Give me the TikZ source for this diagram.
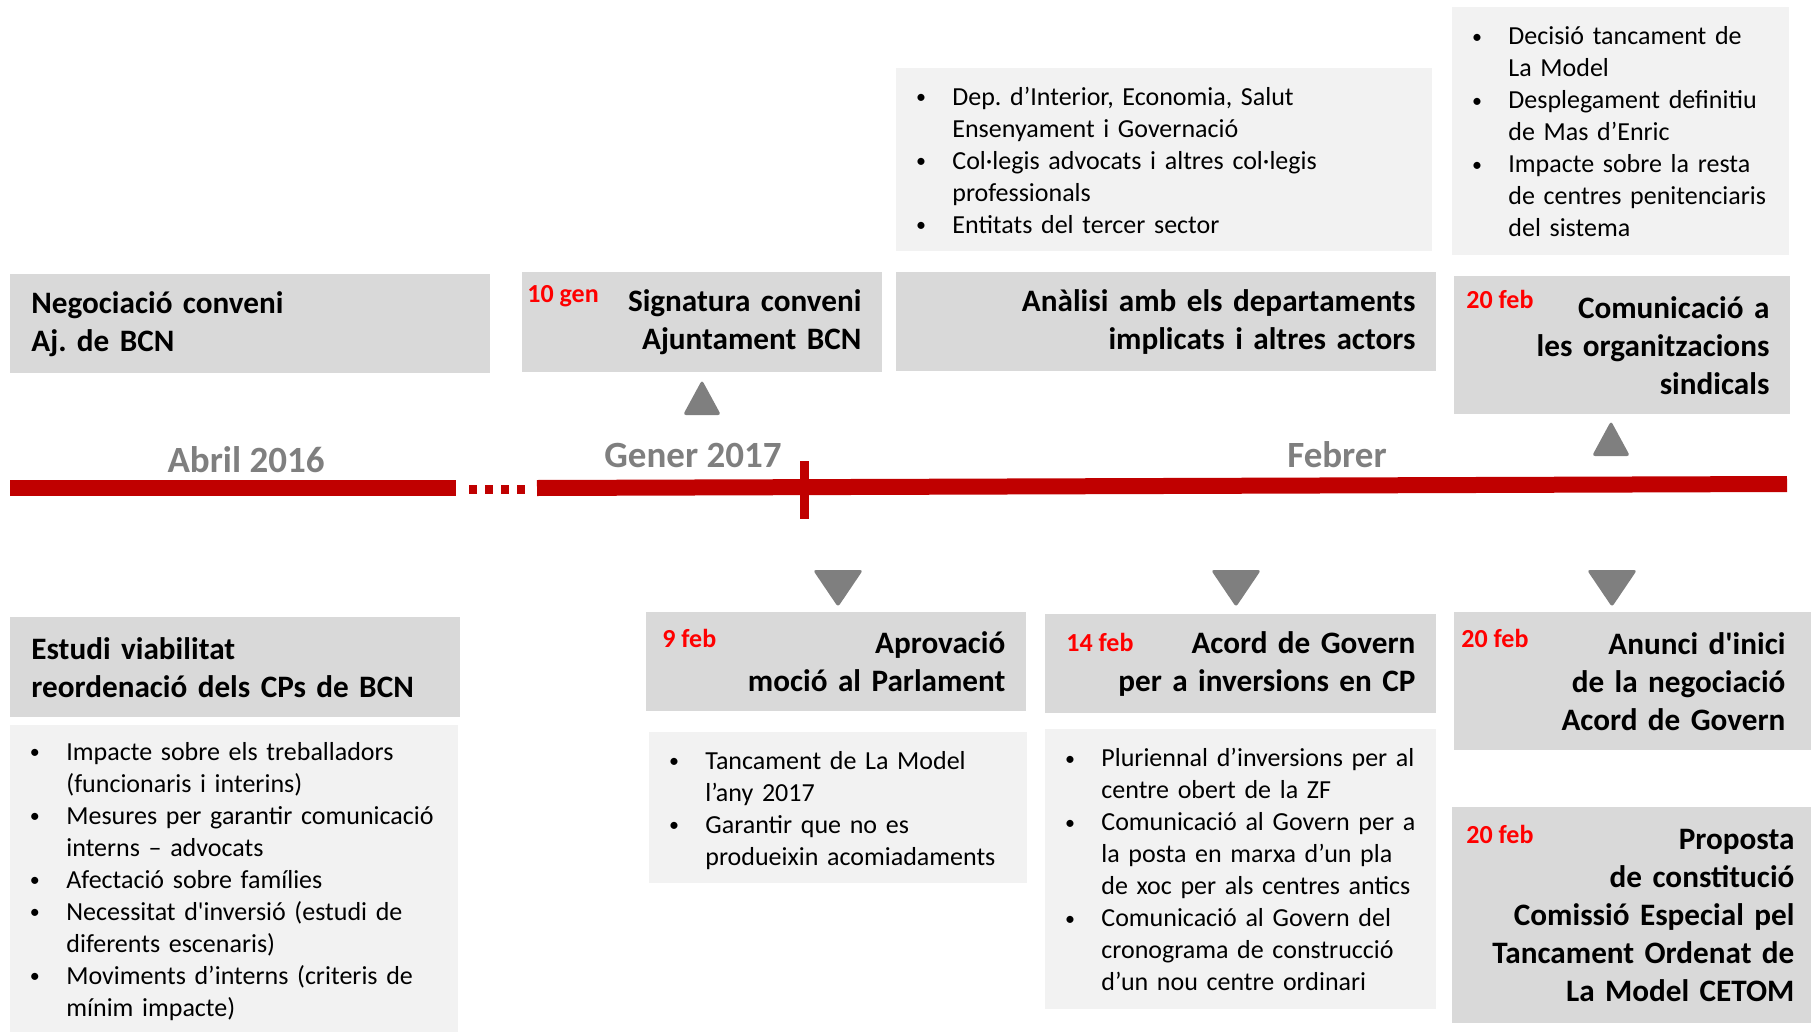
\documentclass[tikz,border=0pt]{standalone}
\usepackage{fontspec}
\setmainfont{Carlito}
\frenchspacing
\definecolor{boxdark}{HTML}{D9D9D9}
\definecolor{boxlight}{HTML}{F2F2F2}
\definecolor{linered}{HTML}{C00000}
\definecolor{markgray}{HTML}{7F7F7F}
\definecolor{datered}{HTML}{FF0000}
\newcommand{\bl}{\hspace{0.8pt}\raisebox{0.9pt}{\fontsize{10}{10}\selectfont\textbullet}}

\begin{document}
\begin{tikzpicture}[x=0.5pt,y=-0.5pt,
  head/.style={fill=boxdark, anchor=north west, inner xsep=10.5pt, inner ysep=0pt,
    font=\fontsize{15.6}{19}\selectfont\bfseries},
  note/.style={fill=boxlight, anchor=north west, inner xsep=9pt, inner ysep=0pt,
    align=left, font=\fontsize{13}{16}\selectfont},
  when/.style={anchor=west, inner sep=0pt, text=datered, font=\fontsize{13}{15}\selectfont\bfseries},
  month/.style={inner sep=0pt, text=markgray, font=\fontsize{18.5}{22}\selectfont\bfseries},
  bar/.style={linered, line width=8pt},
  tri/.style={fill=markgray, rounded corners=1.5pt}]
\useasboundingbox (0,0) rectangle (1811,1033);

% timeline
\draw[bar] (10,488) -- (456,488);
\draw[linered, line width=4.5pt, dash pattern=on 4pt off 4pt] (469,489) -- (525,489);
\draw[bar] (537,488) -- (1787,484);
\draw[linered, line width=4.5pt] (804.5,461) -- (804.5,519);
\node[month] (abril) at (246,460) {Abril 2016};
\node[month] (gener) at (693,455) {Gener 2017};
\node[month] (febrer) at (1337,455) {Febrer};

% upper row
\node[head, align=left, text width=219pt, minimum height=49.5pt] (negoc) at (10,274)
  {Negociació conveni\\Aj. de BCN};
\node[head, align=right, text width=159pt, minimum height=50pt] (signa) at (522,272)
  {Signatura conveni\\Ajuntament BCN};
\node[head, align=right, text width=249pt, minimum height=49.5pt] (analisi) at (896,272)
  {Anàlisi amb els departaments\\implicats i altres actors};
\node[head, align=right, text width=147pt, minimum height=69pt] (sindic) at (1454,276)
  {Comunicació a\\les organitzacions\\sindicals};
\node[note, text width=250pt, minimum height=91.5pt] (actors) at (896,68)
  {\begin{tabular}{@{}p{19pt}@{}l@{}}\noalign{\vskip3pt}
   \bl & Dep. d’Interior, Economia, Salut\\
       & Ensenyament i Governació\\
   \bl & Col·legis advocats i altres col·legis\\
       & professionals\\
   \bl & Entitats del tercer sector
   \end{tabular}};
\node[note, text width=150.5pt, minimum height=124pt] (decisio) at (1452,7)
  {\begin{tabular}{@{}p{19pt}@{}l@{}}\noalign{\vskip3pt}
   \bl & Decisió tancament de\\
       & La Model\\
   \bl & Desplegament definitiu\\
       & de Mas d’Enric\\
   \bl & Impacte sobre la resta\\
       & de centres penitenciaris\\
       & del sistema
   \end{tabular}};

% lower row
\node[head, align=left, text width=204pt, minimum height=50pt] (estudi) at (10,617)
  {Estudi viabilitat\\reordenació dels CPs de BCN};
\node[head, align=right, text width=169pt, minimum height=49.5pt] (mocio) at (646,612)
  {Aprovació\\moció al Parlament};
\node[head, align=right, text width=174.5pt, minimum height=49.5pt] (acord) at (1045,614)
  {Acord de Govern\\per a inversions en CP};
\node[head, align=right, inner xsep=13pt, text width=152.5pt, minimum height=69pt] (anunci) at (1454,612)
  {Anunci d\textquotesingle inici\\de la negociació\\Acord de Govern};
\node[head, align=right, inner xsep=8.5pt, text width=162.5pt, minimum height=108pt] (cetom) at (1452,807)
  {Proposta\\de constitució\\Comissió Especial pel\\Tancament Ordenat de\\La Model CETOM};
\node[note, text width=206pt, minimum height=153.5pt] (impacte) at (10,725)
  {\begin{tabular}{@{}p{19pt}@{}l@{}}\noalign{\vskip3pt}
   \bl & Impacte sobre els treballadors\\
       & (funcionaris i interins)\\
   \bl & Mesures per garantir comunicació\\
       & interns – advocats\\
   \bl & Afectació sobre famílies\\
   \bl & Necessitat d\textquotesingle inversió (estudi de\\
       & diferents escenaris)\\
   \bl & Moviments d’interns (criteris de\\
       & mínim impacte)
   \end{tabular}};
\node[note, text width=171pt, minimum height=75.5pt] (tanca) at (649,732)
  {\begin{tabular}{@{}p{19pt}@{}l@{}}\noalign{\vskip3pt}
   \bl & Tancament de La Model\\
       & l’any 2017\\
   \bl & Garantir que no es\\
       & produeixin acomiadaments
   \end{tabular}};
\node[note, text width=177.5pt, minimum height=140pt] (inversio) at (1045,729)
  {\begin{tabular}{@{}p{19pt}@{}l@{}}\noalign{\vskip3pt}
   \bl & Pluriennal d’inversions per al\\
       & centre obert de la ZF\\
   \bl & Comunicació al Govern per a\\
       & la posta en marxa d’un pla\\
       & de xoc per als centres antics\\
   \bl & Comunicació al Govern del\\
       & cronograma de construcció\\
       & d’un nou centre ordinari
   \end{tabular}};

% dates
\node[when] (gen10) at (527,296) {10 gen};
\node[when] (feb20a) at (1466,299) {20 feb};
\node[when] (feb9) at (662,638) {9 feb};
\node[when] (feb14) at (1066,642) {14 feb};
\node[when] (feb20b) at (1461,638) {20 feb};
\node[when] (feb20c) at (1466,834) {20 feb};

% markers
\fill[tri] (683,415) -- (702,380) -- (721,415) -- cycle;
\fill[tri] (1592,456) -- (1611,421) -- (1630,456) -- cycle;
\fill[tri] (813,570) -- (863,570) -- (838,607) -- cycle;
\fill[tri] (1211,570) -- (1261,570) -- (1236,607) -- cycle;
\fill[tri] (1587,570) -- (1637,570) -- (1612,607) -- cycle;
\end{tikzpicture}
\end{document}
